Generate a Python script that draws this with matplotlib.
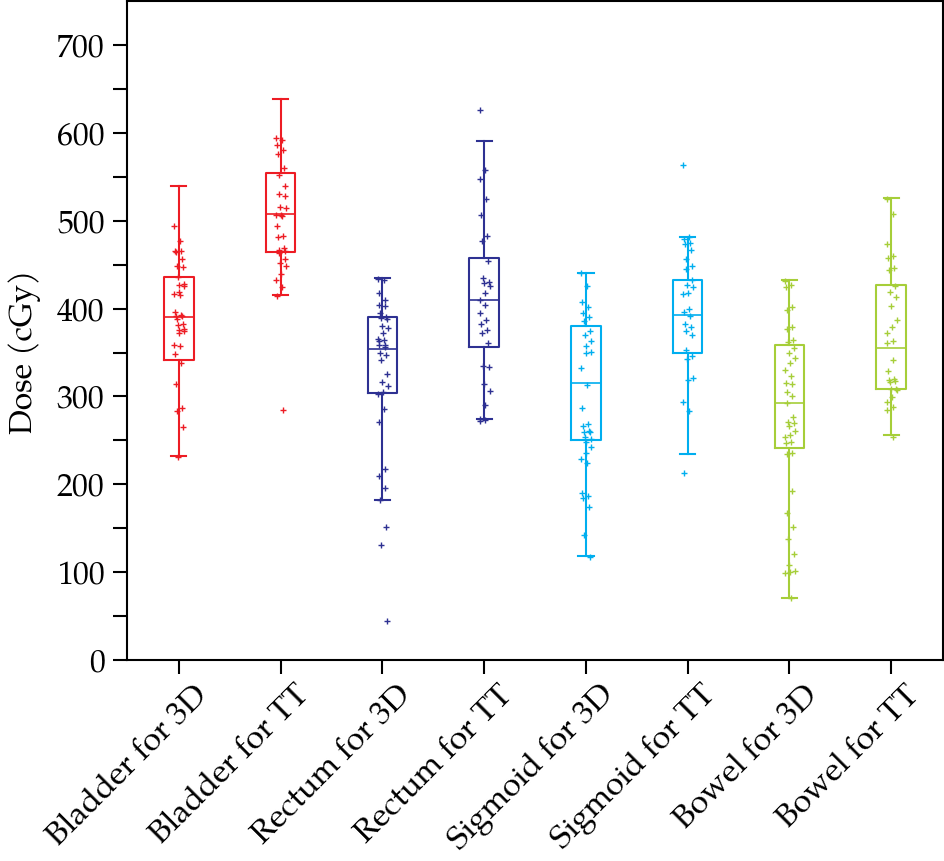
import numpy as np
import matplotlib
matplotlib.use("Agg")
import matplotlib.pyplot as plt
import matplotlib.transforms as mtransforms

plt.rcParams['font.family'] = ['TeX Gyre Pagella', 'URW Palladio L', 'P052', 'Palatino', 'Liberation Serif', 'DejaVu Serif']

categories = ["Bladder for 3D", "Bladder for TT", "Rectum for 3D", "Rectum for TT",
              "Sigmoid for 3D", "Sigmoid for TT", "Bowel for 3D", "Bowel for TT"]
colors = ["#ED1C24", "#ED1C24", "#2E3192", "#2E3192",
          "#00AEEF", "#00AEEF", "#A6CE39", "#A6CE39"]

# box statistics: (whisker low, Q1, median, Q3, whisker high)
whislo = [232, 416, 182, 274, 118, 235, 71, 256]
q1     = [341, 464, 304, 356, 250, 349, 241, 309]
med    = [390, 508, 354, 410, 315, 393, 292, 355]
q3     = [436, 554, 390, 457, 380, 433, 358, 427]
whishi = [539, 638, 435, 591, 441, 481, 432, 526]

bladder_3d = [494, 477, 466, 465, 464, 456, 449, 447, 436, 428, 427, 426, 419, 417, 415,
              396, 393, 392, 391, 388, 383, 381, 377, 376, 375, 372, 359, 357, 348, 338,
              314, 287, 283, 265, 231]
bladder_tt = [594, 592, 586, 580, 576, 560, 552, 540, 530, 528, 516, 514, 507, 506, 505,
              494, 483, 481, 469, 467, 465, 463, 456, 452, 448, 439, 433, 425, 414, 285]
rectum_3d = [434, 432, 418, 410, 404, 403, 395, 390, 389, 388, 380, 378, 372, 365, 364,
             363, 359, 358, 356, 349, 347, 342, 326, 317, 312, 305, 303, 286, 271, 217,
             209, 196, 182, 151, 131, 44]
rectum_tt = [626, 558, 547, 525, 506, 483, 477, 454, 435, 430, 429, 426, 418, 410, 404,
             395, 387, 383, 376, 372, 361, 335, 334, 314, 306, 290, 274, 273, 272]
sigmoid_3d = [440, 426, 408, 402, 395, 390, 386, 375, 370, 363, 357, 351, 349, 332, 313,
              287, 269, 266, 261, 260, 259, 254, 252, 248, 243, 236, 229, 224, 190, 187,
              184, 174, 142, 117]
sigmoid_tt = [563, 481, 479, 475, 474, 467, 456, 448, 445, 432, 427, 425, 418, 417, 400,
              396, 391, 383, 379, 374, 370, 353, 346, 343, 321, 319, 294, 283, 213]
bowel_3d = [431, 427, 425, 402, 398, 379, 377, 364, 362, 355, 349, 344, 338, 330, 323,
            315, 314, 305, 300, 293, 277, 271, 270, 266, 261, 256, 254, 248, 247, 236,
            235, 192, 167, 151, 138, 121, 108, 101, 100, 99, 71]
bowel_tt = [525, 508, 474, 460, 457, 446, 444, 426, 419, 413, 403, 387, 379, 372, 363,
            361, 341, 329, 320, 319, 318, 317, 309, 308, 307, 299, 294, 288, 284, 254]

points = [bladder_3d, bladder_tt, rectum_3d, rectum_tt,
          sigmoid_3d, sigmoid_tt, bowel_3d, bowel_tt]

yticks = [0, 100, 200, 300, 400, 500, 600, 700]

fig = plt.figure(figsize=(9.44, 8.61), dpi=100)
ax = fig.add_axes([0.1345, 0.2334, 0.8645, 0.7654])

positions = np.arange(len(categories))
stats = []
for i in range(len(categories)):
    stats.append(dict(med=med[i], q1=q1[i], q3=q3[i], whislo=whislo[i], whishi=whishi[i], fliers=[]))

for i, st in enumerate(stats):
    c = colors[i]
    ax.bxp([st], positions=[positions[i]], widths=0.29, capwidths=0.15, showfliers=False,
           boxprops=dict(color=c, linewidth=1.5),
           whiskerprops=dict(color=c, linewidth=1.5),
           capprops=dict(color=c, linewidth=1.5),
           medianprops=dict(color=c, linewidth=1.2))
    vals = np.asarray(points[i], dtype=float)
    n = len(vals)
    jitter = (((np.arange(n) * 7) % 13) - 6) / 6.0 * 0.05 + 0.005
    ax.plot(positions[i] + jitter, vals, linestyle='none', marker='+', markersize=4,
            markeredgewidth=1.0, color=c, zorder=3)

ax.set_xlim(-0.51, 7.51)
ax.set_ylim(0, 750)
ax.set_yticks(yticks)
ax.set_yticks(np.arange(50, 750, 100), minor=True)
ax.set_yticklabels([str(v) for v in yticks], fontsize=23)
ax.set_xticks(positions)
ax.set_xticklabels(categories, rotation=45, ha='right', va='top', rotation_mode='anchor', fontsize=23.5)
ax.tick_params(axis='x', which='major', direction='out', length=10, width=1.5, pad=4)
ax.tick_params(axis='y', which='both', direction='out', length=10, width=1.5, pad=6)
offset = mtransforms.ScaledTranslation(13 / 100, 0, fig.dpi_scale_trans)
for lab in ax.get_xticklabels():
    lab.set_transform(lab.get_transform() + offset)
for sp in ax.spines.values():
    sp.set_linewidth(1.5)
ax.set_ylabel("Dose (cGy)", fontsize=23)
ax.yaxis.set_label_coords(-0.105, 0.467)

fig.savefig("out.png", dpi=100)
